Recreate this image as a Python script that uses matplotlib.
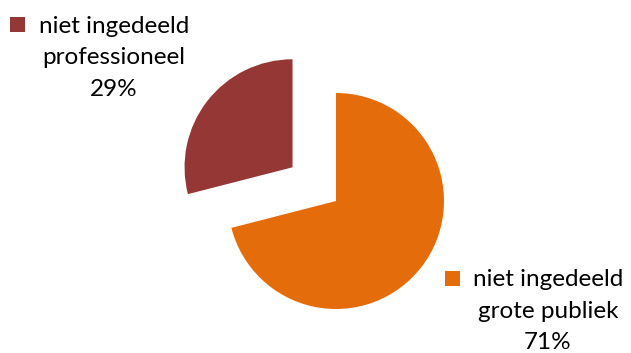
import matplotlib.pyplot as plt
from matplotlib.patches import Rectangle

categories = ['niet ingedeeld\ngrote publiek', 'niet ingedeeld\nprofessioneel']
values = [71, 29]
colors = ['#E46C0A', '#953735']

fig = plt.figure(figsize=(6.31, 3.53), dpi=100)
ax = fig.add_axes([0, 0, 1, 1])

# explode is in data units here (pixels)
ax.pie(values, colors=colors, startangle=90, counterclock=False,
       explode=[0, 55], center=(336, 152), radius=108,
       wedgeprops=dict(linewidth=0))

ax.set_xlim(0, 631)
ax.set_ylim(0, 353)
ax.set_aspect('equal')
ax.axis('off')

# labels: text centre x, middle line y, marker left x, marker bottom y
label_pos = [(548, 42, 445, 67), (114, 295, 10, 321)]
for i in range(len(values)):
    tx, ty, mx, my = label_pos[i]
    txt = categories[i] + '\n' + str(values[i]) + '%'
    ax.text(tx, ty, txt, ha='center', va='center', multialignment='center',
            fontsize=17.5, family='Lato', linespacing=1.62)
    ax.add_patch(Rectangle((mx, my), 15, 15, color=colors[i], linewidth=0))

fig.savefig('out.png', dpi=100)
